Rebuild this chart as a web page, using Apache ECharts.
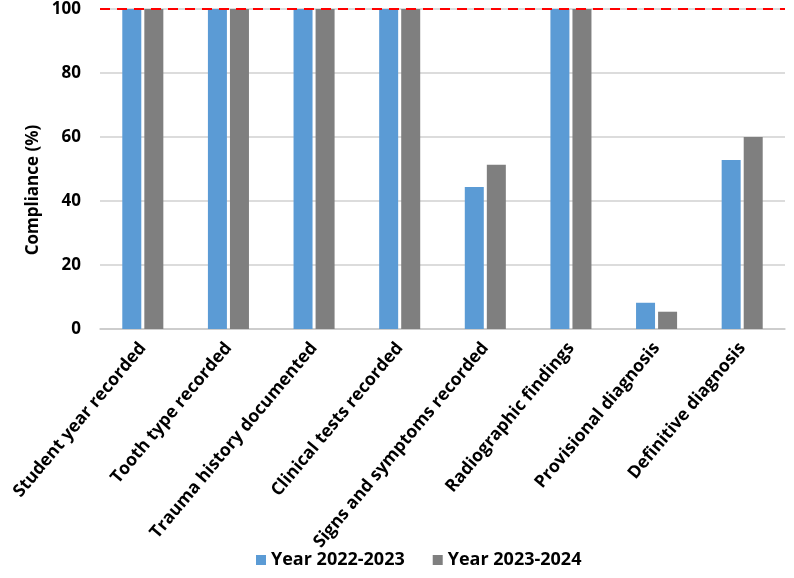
<!DOCTYPE html>
<html lang="en">
<head>
    <meta charset="UTF-8">
    <title>Compliance</title>
    <script type="text/javascript" src="https://cdn.jsdelivr.net/npm/echarts@6/dist/echarts.min.js"></script>
</head>
<body style="margin:0">
    <div id="main" style="width:794px;height:578px;"></div>
</body>
<script type="text/javascript">
    var categories = ['Student year recorded', 'Tooth type recorded', 'Trauma history documented',
        'Clinical tests recorded', 'Signs and symptoms recorded', 'Radiographic findings',
        'Provisional diagnosis', 'Definitive diagnosis'];
    var year2223 = [100, 100, 100, 100, 44.4, 100, 8.2, 52.8];
    var year2324 = [100, 100, 100, 100, 51.3, 100, 5.4, 60];
    var target = 100;

    var font = 'Open Sans';
    var chart = echarts.init(document.getElementById('main'));

    chart.setOption({
        animation: false,
        textStyle: { fontFamily: font },
        legend: {
            bottom: 4,
            left: 251,
            itemWidth: 10,
            itemHeight: 10,
            itemGap: 28,
            icon: 'rect',
            textStyle: { fontSize: 18, fontWeight: 'bold', color: '#000' },
            data: ['Year 2022-2023', 'Year 2023-2024']
        },
        graphic: [{
            type: 'text',
            x: 33,
            y: 190,
            rotation: Math.PI / 2,
            style: {
                text: 'Compliance (%)',
                fontFamily: font,
                fontSize: 17,
                fontWeight: 'bold',
                fill: '#000',
                align: 'center',
                verticalAlign: 'middle'
            }
        }],
        grid: { left: 100, right: 9, top: 9, bottom: 249, outerBoundsMode: 'none' },
        xAxis: {
            type: 'category',
            data: categories,
            axisLine: { lineStyle: { color: '#c8c8c8', width: 1.5 } },
            axisTick: { show: false },
            axisLabel: {
                rotate: 50,
                interval: 0,
                margin: 16,
                fontSize: 17.5,
                fontWeight: 'bold',
                color: '#000'
            }
        },
        yAxis: {
            type: 'value',
            min: 0,
            max: 100,
            interval: 20,
            axisLine: { show: false },
            axisTick: { show: false },
            axisLabel: { fontSize: 17, fontWeight: 'bold', color: '#000', margin: 19 },
            splitLine: { lineStyle: { color: '#d0d0d0', width: 1.5 } }
        },
        series: [
            {
                name: 'Year 2022-2023',
                type: 'bar',
                data: year2223,
                barWidth: 19,
                barGap: '16%',
                itemStyle: { color: '#5B9BD5' },
                markLine: {
                    silent: true,
                    symbol: 'none',
                    label: { show: false },
                    lineStyle: { color: '#FF0000', type: [10, 7], width: 2 },
                    data: [{ yAxis: target }]
                }
            },
            {
                name: 'Year 2023-2024',
                type: 'bar',
                data: year2324,
                barWidth: 19,
                itemStyle: { color: '#7F7F7F' }
            }
        ]
    });
</script>
</html>
